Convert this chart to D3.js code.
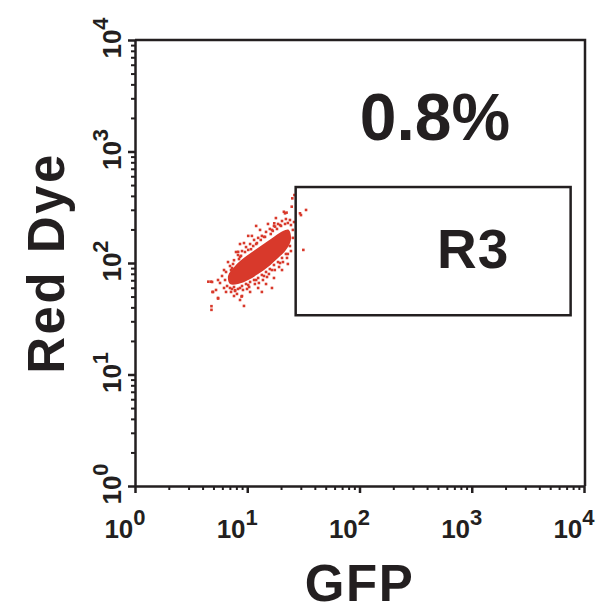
<!DOCTYPE html>
<html>
<head>
<meta charset="utf-8">
<script src="https://cdn.jsdelivr.net/npm/d3@7"></script>
<style>
  html, body { margin: 0; padding: 0; background: #fff; }
  svg { display: block; font-family: "Liberation Sans", Arial, Helvetica, sans-serif; }
</style>
</head>
<body>
<div id="chart"></div>
<script>
// ---- data ----
const DECADES = [1, 10, 100, 1000, 10000];
const EXPONENTS = ["0", "1", "2", "3", "4"];
const X_TITLE = "GFP";
const Y_TITLE = "Red Dye";
const GATE_LABEL = "R3";
const GATE_PERCENT = "0.8%";
const gateGfp = [27, 7600];
const gateRed = [34, 480];

// dense core of the population (outline, GFP / Red Dye)
const coreGfp = [6.74, 7.78, 9.55, 11.7, 14.4, 17.7, 20.8, 23.5, 24.5, 22.1, 18.8, 15.3, 12.5, 10.2, 8.27, 7.02];
const coreRed = [76.5, 94, 113, 131, 151, 175, 194, 198, 161, 131, 111, 92.1, 79.6, 70.4, 64.8, 64.8];

// single events around the core [GFP, Red Dye]
const events = [
  [5.96, 76.5], [5.72, 66.2], [6.21, 59.7], [5.49, 70.4], [6.47, 83.1], [6.61, 62.2], [6.34, 70.4],
  [7.02, 94.0], [7.17, 86.5], [7.02, 59.7], [7.17, 55.0],
  [7.62, 106], [7.47, 98], [7.62, 60.9], [7.78, 56.1],
  [8.27, 118], [8.44, 108.5], [8.27, 58.5], [8.10, 52.8],
  [8.98, 128], [8.80, 116], [8.98, 62.2], [9.16, 57.3],
  [9.75, 139], [9.55, 125.5], [9.75, 64.8], [9.95, 58.5],
  [10.6, 148], [10.8, 133], [10.6, 67.6], [10.4, 60.9],
  [11.5, 161], [11.3, 142], [11.5, 70.4], [11.7, 64.8],
  [12.5, 168], [12.2, 151], [12.5, 73.4], [12.7, 66.2],
  [13.5, 175], [13.2, 161], [13.5, 78.1], [13.8, 70.4],
  [14.7, 190], [14.4, 171.5], [14.7, 83.1], [15.0, 74.9],
  [15.9, 202], [16.2, 182], [15.9, 88.3], [15.6, 79.7],
  [17.3, 215], [16.9, 194], [17.3, 96], [17.6, 86.5],
  [18.8, 224], [18.4, 202], [18.8, 102], [19.2, 92.1],
  [20.4, 238], [20.0, 215], [20.4, 111], [20.8, 102],
  [22.1, 248], [21.7, 224], [22.1, 120.5], [22.6, 111],
  [24.0, 243], [24.5, 219], [24.0, 142], [24.5, 128],
  [25.5, 198], [25.5, 168], [26.1, 233],
  [6.21, 86.5], [6.74, 102], [7.94, 125.5], [9.35, 151], [11.0, 175], [13.0, 198], [15.3, 224],
  [18.0, 253], [21.2, 288],
  [6.47, 55.0], [7.62, 50.6], [8.98, 50.6], [10.6, 55.0], [12.5, 59.7], [14.7, 64.8], [17.3, 73.4],
  [20.4, 86.5], [23.0, 98],
  [7.32, 90.2], [8.62, 113.5], [10.2, 131], [12.0, 148], [14.1, 171.5], [16.6, 198], [19.6, 219], [23.0, 228.5],
  [7.32, 58.5], [8.62, 59.7], [10.2, 63.5], [12.0, 70.4], [14.1, 76.5], [16.6, 86.5], [19.6, 100], [23.0, 120.5],
  [5.27, 57.3], [4.86, 67.6], [4.96, 55.0], [5.49, 48.6], [8.62, 46.6], [9.35, 41.2], [13.5, 55],
  [16.6, 59.7], [12.0, 215], [10.2, 175], [8.62, 148],
  [4.5, 68], [4.75, 68], [4.9, 55], [4.8, 41], [4.8, 38], [5.5, 48], [8.3, 126], [8.9, 50],
  [7.8, 57], [17.4, 227], [17.7, 212], [21.7, 279], [22.4, 283], [26.3, 407], [24.9, 320],
  [25.2, 380], [29.5, 279], [30.1, 269], [31.6, 131], [33.4, 299]
];

// ---- layout ----
const W = 599, H = 611;
const plot = { left: 135, right: 584, top: 40, bottom: 486 };
const ink = "#231f20";
const dotColor = "#d8392b";
const dot = 2.6;

const svg = d3.select("#chart").append("svg")
  .attr("width", W)
  .attr("height", H);

const x = d3.scaleLog().domain([1, 10000]).range([plot.left, plot.right]);
const y = d3.scaleLog().domain([1, 10000]).range([plot.bottom, plot.top]);

const minorTicks = x.ticks().filter(t => !DECADES.includes(t));

// ---- events ----
const core = d3.line()
  .x((d, i) => x(coreGfp[i]))
  .y((d, i) => y(coreRed[i]))
  .curve(d3.curveCatmullRomClosed);

svg.append("path")
  .attr("d", core(coreGfp))
  .attr("fill", dotColor);

svg.append("g")
  .selectAll("rect")
  .data(events)
  .join("rect")
  .attr("x", d => x(d[0]) - dot / 2)
  .attr("y", d => y(d[1]) - dot / 2)
  .attr("width", dot)
  .attr("height", dot)
  .attr("fill", dotColor);

// ---- gate ----
svg.append("rect")
  .attr("x", x(gateGfp[0]))
  .attr("y", y(gateRed[1]))
  .attr("width", x(gateGfp[1]) - x(gateGfp[0]))
  .attr("height", y(gateRed[0]) - y(gateRed[1]))
  .attr("fill", "none")
  .attr("stroke", ink)
  .attr("stroke-width", 2.5);

svg.append("text")
  .attr("x", 437)
  .attr("y", 268)
  .attr("font-size", 55)
  .attr("font-weight", "bold")
  .attr("letter-spacing", 1)
  .attr("fill", ink)
  .text(GATE_LABEL);

svg.append("text")
  .attr("x", 435)
  .attr("y", 140)
  .attr("text-anchor", "middle")
  .attr("font-size", 66)
  .attr("font-weight", "bold")
  .attr("fill", ink)
  .text(GATE_PERCENT);

// ---- frame (top / right) ----
svg.append("path")
  .attr("d", `M${plot.left},${plot.top}H${plot.right + 1}V${plot.bottom}`)
  .attr("fill", "none")
  .attr("stroke", ink)
  .attr("stroke-width", 2.5);

// ---- axes ----
function styleAxis(g, width) {
  g.select(".domain").attr("stroke", ink).attr("stroke-width", 2);
  g.selectAll(".tick line").attr("stroke", ink).attr("stroke-width", width);
  g.selectAll(".tick text").remove();
}

svg.append("g")
  .attr("transform", `translate(0,${plot.bottom})`)
  .call(d3.axisBottom(x).tickValues(minorTicks).tickSize(4).tickSizeOuter(0))
  .call(g => styleAxis(g, 2));
svg.append("g")
  .attr("transform", `translate(0,${plot.bottom})`)
  .call(d3.axisBottom(x).tickValues(DECADES).tickSize(7).tickSizeOuter(0))
  .call(g => styleAxis(g, 2.5));

svg.append("g")
  .attr("transform", `translate(${plot.left},0)`)
  .call(d3.axisLeft(y).tickValues(minorTicks).tickSize(4).tickSizeOuter(0))
  .call(g => styleAxis(g, 2));
svg.append("g")
  .attr("transform", `translate(${plot.left},0)`)
  .call(d3.axisLeft(y).tickValues(DECADES).tickSize(7).tickSizeOuter(0))
  .call(g => styleAxis(g, 2.5));

// decade labels 10^n
function powerLabel(sel) {
  sel.attr("font-weight", "bold")
    .attr("fill", ink)
    .attr("text-anchor", "middle");
  sel.append("tspan").attr("font-size", 26).text("10");
  sel.append("tspan").attr("font-size", 22).attr("dy", -13).text((d, i) => EXPONENTS[i]);
}

svg.append("g")
  .selectAll("text")
  .data(DECADES)
  .join("text")
  .attr("x", d => x(d) - 10)
  .attr("y", 538)
  .call(powerLabel);

svg.append("g")
  .selectAll("text")
  .data(DECADES)
  .join("text")
  .attr("transform", d => `translate(121,${y(d) - 2}) rotate(-90)`)
  .call(powerLabel);

// ---- titles ----
svg.append("text")
  .attr("x", (plot.left + plot.right) / 2)
  .attr("y", 601)
  .attr("text-anchor", "middle")
  .attr("font-size", 51)
  .attr("font-weight", "bold")
  .attr("letter-spacing", 1.5)
  .attr("fill", ink)
  .text(X_TITLE);

svg.append("text")
  .attr("transform", `translate(64,${(plot.top + plot.bottom) / 2}) rotate(-90)`)
  .attr("text-anchor", "middle")
  .attr("font-size", 51)
  .attr("font-weight", "bold")
  .attr("letter-spacing", 2.5)
  .attr("fill", ink)
  .text(Y_TITLE);
</script>
</body>
</html>
